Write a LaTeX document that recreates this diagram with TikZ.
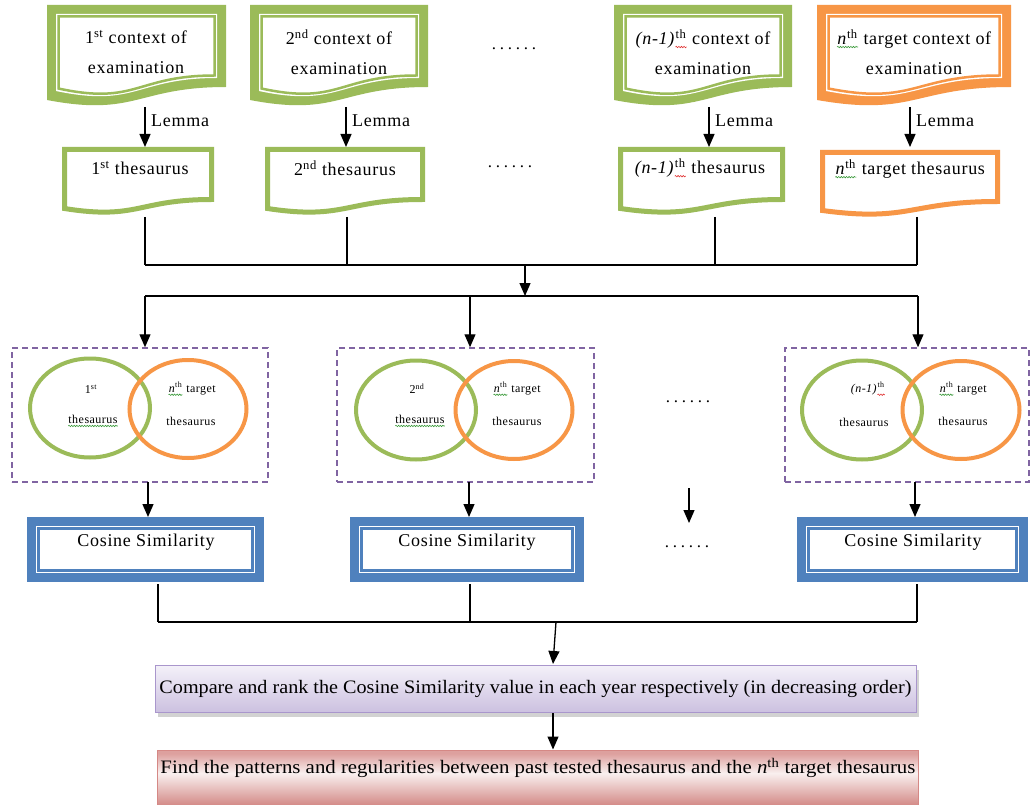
\documentclass[tikz,border=0pt]{standalone}
\usepackage{fontspec}
\setmainfont{Liberation Serif}
\newfontfamily\wf[LetterSpace=4]{Liberation Serif}
\newfontfamily\dotf[LetterSpace=22]{Liberation Serif}
\usepackage{graphicx}
\usetikzlibrary{arrows.meta,shapes.geometric,shadows,decorations.pathmorphing}

\definecolor{leaf}{HTML}{9BBB59}
\definecolor{tang}{HTML}{F79646}
\definecolor{steel}{HTML}{4F81BD}
\definecolor{iris}{HTML}{8064A2}
\definecolor{lavtop}{HTML}{F4F1F9}
\definecolor{lavbot}{HTML}{CCC1E0}
\definecolor{lavedge}{HTML}{A996CC}
\definecolor{rosedge}{HTML}{D58885}
\definecolor{rosetop}{HTML}{DDA09E}
\definecolor{rosemid}{HTML}{F9F0EF}
\definecolor{rosebot}{HTML}{D48C89}
\definecolor{sqgreen}{HTML}{3A9A3A}
\definecolor{sqred}{HTML}{E03030}

% soft band: darker edges, pale centre
\pgfdeclareverticalshading{roseband}{100bp}{color(0bp)=(rosebot); color(28bp)=(rosebot);
  color(55bp)=(rosemid); color(72bp)=(rosetop); color(100bp)=(rosetop)}

% wavy proof-reading underline
\newcommand\squig[2]{\tikz[baseline=(sq.base)]{\node[inner sep=0pt] (sq) {#2};
  \draw[#1,line width=0.6pt,decorate,decoration={snake,amplitude=0.7pt,segment length=2.6pt}]
    ([yshift=-2.6pt]sq.base west) -- ([yshift=-2.6pt]sq.base east);}}

% document outline: style, left x, top y, right x, right-bottom y, wave depth
\newcommand\docshape[6]{\path[#1] (#2,#3) -- (#4,#3) -- (#4,#5)
  .. controls ({(#2+#4)/2},#5) and ({(#2+#4)/2},{#5+2.31*#6}) .. (#2,{#5+#6}) -- cycle;}
% document with thick band and thin inner rule
\newcommand\framedoc[6]{%
  \docshape{fill=#1}{#2}{#3}{#4}{#5}{#6}
  \docshape{fill=white}{#2+9}{#3+9}{#4-9}{#5-9}{#6}
  \docshape{draw=#1,line width=2.5pt}{#2+11.5}{#3+11.5}{#4-11.5}{#5-11.5}{#6}}
% document with a single thick outline
\newcommand\plaindoc[6]{\docshape{draw=#1,line width=5pt,fill=white}{#2+2.5}{#3+2.5}{#4-2.5}{#5-2.5}{#6}}
% rectangle with thick band and thin inner rule
\newcommand\cosbox[4]{%
  \fill[steel] (#1,#2) rectangle (#3,#4);
  \fill[white] (#1+9,#2+9) rectangle (#3-9,#4-9);
  \draw[steel,line width=2.5pt] (#1+11.5,#2+11.5) rectangle (#3-11.5,#4-11.5);}

\tikzset{
  txt/.style={font=\wf\fontsize{18}{30}\selectfont,align=center,inner sep=0pt},
  vtxt/.style={font=\wf\fontsize{12}{14}\selectfont,inner sep=0pt},
  dots/.style={font=\dotf\fontsize{17}{20}\selectfont,inner sep=0pt,anchor=base},
  wire/.style={line width=1.3pt},
  conn/.style={line width=1.3pt,-{Triangle[length=13pt,width=11pt]}},
  dbox/.style={draw=iris,line width=1.5pt,dash pattern=on 6pt off 4pt,inner sep=0pt},
  gring/.style={ellipse,draw=leaf,line width=4pt,inner sep=0pt,minimum width=120pt,minimum height=99pt},
  oring/.style={ellipse,draw=tang,line width=4pt,inner sep=0pt,minimum width=117pt,minimum height=98pt},
}

\begin{document}
\begin{tikzpicture}[x=1pt,y=-1pt]
\useasboundingbox (0,0) rectangle (1031,805);
\fill[white] (0,0) rectangle (1031,805);

% ---- contexts of examination ----
\framedoc{leaf}{47}{5}{226}{87}{13}
\framedoc{leaf}{250}{5}{428}{87}{13}
\framedoc{leaf}{614}{5}{792}{87}{13}
\framedoc{tang}{817}{5}{1011}{87}{13}
\node[txt] (ctx1) at (136,52) {1\textsuperscript{st} context of\\examination};
\node[txt] (ctx2) at (339,52) {2\textsuperscript{nd} context of\\examination};
\node[txt] (ctx3) at (703,52) {\textit{(n-1)}\squig{sqred}{\textsuperscript{th}} context of\\examination};
\node[txt] (ctx4) at (914,52) {\squig{sqgreen}{\textit{n}\textsuperscript{th}} target context of\\examination};
\node[dots] (dt1) at (514,50) {......};

% ---- thesauri ----
\plaindoc{leaf}{62}{147}{214}{202}{9}
\plaindoc{leaf}{265}{147}{425}{202}{9}
\plaindoc{leaf}{618}{147}{785}{202}{9}
\plaindoc{tang}{820}{150}{1000}{204}{9}
\node[txt] (th1) at (140,168) {1\textsuperscript{st} thesaurus};
\node[txt] (th2) at (345,168) {2\textsuperscript{nd} thesaurus};
\node[txt] (th3) at (700,168) {\textit{(n-1)}\squig{sqred}{\textsuperscript{th}} thesaurus};
\node[txt] (th4) at (910,169) {\squig{sqgreen}{\textit{n}\textsuperscript{th}} target thesaurus};
\node[dots] (dt2) at (510,168) {......};

% ---- lemmatisation arrows ----
\foreach \i/\x in {1/145,2/346,3/709,4/910}{
  \coordinate (ls\i) at (\x,107);
  \coordinate (le\i) at (\x,147);
  \draw[conn] (ls\i) -- (le\i);
  \node[txt,anchor=west] (lm\i) at (\x+6,121) {Lemma};
}

% ---- gathering and distributing ----
\foreach \i/\x in {1/145,2/347,3/715,4/917}{
  \coordinate (u\i) at (\x,217);
  \coordinate (v\i) at (\x,265);
  \draw[wire] (u\i) -- (v\i);
}
\coordinate (hub1) at (525,265);
\coordinate (hub2) at (525,296);
\coordinate (hl) at (145,296);
\coordinate (hr) at (918,296);
\draw[wire] (v1) -- (v4);
\draw[conn] (hub1) -- (hub2);
\draw[wire] (hl) -- (hr);

% ---- overlap diagrams ----
\node[dbox,minimum width=256pt,minimum height=134pt] (d1) at (140,415) {};
\node[dbox,minimum width=257pt,minimum height=134pt] (d2) at (465.5,415) {};
\node[dbox,minimum width=244pt,minimum height=134pt] (d3) at (907,415) {};
\draw[conn] (hl) -- (hl |- d1.north);
\coordinate (hm) at (470,296);
\draw[conn] (hm) -- (hm |- d2.north);
\draw[conn] (hr) -- (hr |- d3.north);

\node[gring] (g1) at (90,408) {};
\node[oring] (o1) at (188,409) {};
\node[gring] (g2) at (416,410) {};
\node[oring] (o2) at (514,410) {};
\node[gring] (g3) at (862,410) {};
\node[oring] (o3) at (961,410) {};

\node[vtxt] (g1a) at (91,389) {1\textsuperscript{st}};
\node[vtxt] (g1b) at (93,421) {\squig{sqgreen}{thesaurus}};
\node[vtxt] (o1a) at (192,389) {\squig{sqgreen}{\textit{n}\textsuperscript{th}} target};
\node[vtxt] (o1b) at (191,421) {thesaurus};
\node[vtxt] (g2a) at (417,389) {2\textsuperscript{nd}};
\node[vtxt] (g2b) at (420,421) {\squig{sqgreen}{thesaurus}};
\node[vtxt] (o2a) at (517,389) {\squig{sqgreen}{\textit{n}\textsuperscript{th}} target};
\node[vtxt] (o2b) at (517,421) {thesaurus};
\node[vtxt] (g3a) at (868,389) {\textit{(n-1)}\squig{sqred}{\textsuperscript{th}}};
\node[vtxt] (g3b) at (864,422) {thesaurus};
\node[vtxt] (o3a) at (963,389) {\squig{sqgreen}{\textit{n}\textsuperscript{th}} target};
\node[vtxt] (o3b) at (963,421) {thesaurus};
\node[dots] (dt3) at (688,402) {......};

% ---- cosine similarity ----
\cosbox{27}{517}{264}{582}
\cosbox{350}{517}{584}{582}
\cosbox{797}{517}{1028}{582}
\node[txt] (cs1) at (146,542) {Cosine Similarity};
\node[txt] (cs2) at (467,542) {Cosine Similarity};
\node[txt] (cs3) at (913,542) {Cosine Similarity};
\node[dots] (dt4) at (687,547) {......};

\foreach \i/\x in {1/148,2/469,3/915}{
  \coordinate (cin\i) at (\x,517);
  \draw[conn] (\x,482) -- (cin\i);
}
\coordinate (mida) at (689,488);
\coordinate (midb) at (689,523);
\draw[conn] (mida) -- (midb);

\foreach \i/\x in {1/158,2/470,3/917}{
  \coordinate (cout\i) at (\x,584);
  \coordinate (cj\i) at (\x,622);
  \draw[wire] (cout\i) -- (cj\i);
}
\draw[wire] (cj1) -- (cj3);

% ---- ranking and conclusion ----
\node[draw=lavedge,line width=1pt,top color=lavtop,bottom color=lavbot,
      minimum width=761pt,minimum height=47pt,inner sep=0pt,
      drop shadow={shadow xshift=3pt,shadow yshift=-5pt,fill=black!35}]
  (cmp) at (535.5,688.5)
  {\resizebox{752pt}{\height}{\fontsize{19}{22}\selectfont Compare and rank the Cosine Similarity value in each year respectively (in decreasing order)}};
\coordinate (jc) at (556,622);
\coordinate (jd) at (553,664);
\draw[conn] (jc) -- (jd);

\node[draw=rosedge,line width=1pt,shading=roseband,
      minimum width=761pt,minimum height=58pt,inner sep=0pt]
  (fnd) at (537.5,779) {};
\node[inner sep=0pt] (fndtxt) at (538,768)
  {\resizebox{755pt}{\height}{\fontsize{19}{22}\selectfont Find the patterns and regularities between past tested thesaurus and the \textit{n}\textsuperscript{th} target thesaurus}};
\coordinate (co) at (553,713);
\draw[conn] (co) -- (co |- fnd.north);
\end{tikzpicture}
\end{document}
